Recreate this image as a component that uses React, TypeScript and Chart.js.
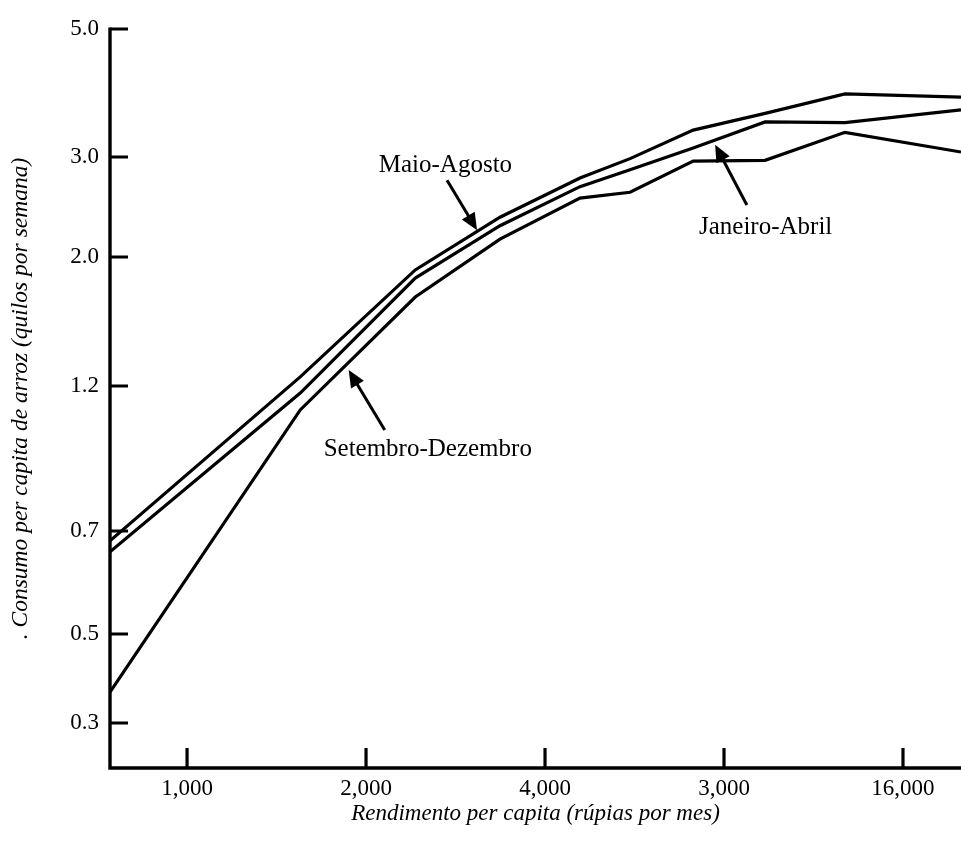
import React, { useEffect, useRef } from 'react';
import { Chart, LinearScale, registerables } from 'chart.js';

// ---- data ----
const INCOME = [742, 1550, 2420, 3360, 4580, 5560, 7100, 9380, 12780, 20030];
const MAIO_AGOSTO = [0.678, 1.244, 1.9, 2.35, 2.755, 2.98, 3.34, 3.57, 3.86, 3.81];
const JANEIRO_ABRIL = [0.654, 1.169, 1.84, 2.27, 2.66, 2.85, 3.11, 3.45, 3.44, 3.62];
const SETEMBRO_DEZEMBRO = [0.358, 1.098, 1.707, 2.15, 2.54, 2.6, 2.95, 2.96, 3.31, 3.06];

const X_TICKS = [1000, 2000, 4000, 8000, 16000];
const X_TICK_LABELS = ['1,000', '2,000', '4,000', '3,000', '16,000'];
const Y_TICKS = [0.3, 0.5, 0.7, 1.2, 2.0, 3.0, 5.0];
const Y_TICK_LABELS = ['0.3', '0.5', '0.7', '1.2', '2.0', '3.0', '5.0'];

const X_TITLE = 'Rendimento per capita (rúpias por mes)';
const Y_TITLE = '. Consumo per capita de arroz (quilos por semana)';

const ANNOTATION_TEXTS = ['Maio-Agosto', 'Janeiro-Abril', 'Setembro-Dezembro'];
const ANNOTATION_TEXT_AT = [[2720, 2.9], [9400, 2.25], [2540, 0.949]];
const ANNOTATION_TAIL_AT = [[2737, 2.73], [8740, 2.47], [2150, 1.019]];
const ANNOTATION_TIP_AT = [[3074, 2.23], [7730, 3.15], [1870, 1.278]];

// ---- scale geometry (the printed y axis is unevenly spaced) ----
const X_MIN = 742;
const X_MAX = 20030;
const Y_MIN = 0.2317;
const Y_MAX = 5.0;
const Y_WARP_VALUES = [Y_MIN, 0.3, 0.5, 0.7, 1.2, 2.0, 3.0, 5.0];
const Y_WARP_FRACTIONS = [0, 0.0609, 0.1813, 0.3207, 0.5169, 0.6915, 0.8268, 1.0];

const FONT = "'Liberation Serif', 'Times New Roman', serif";

class WarpScale extends LinearScale {
  static id = 'warp';
  static defaults = LinearScale.defaults;

  buildTicks() {
    return Y_TICKS.map((v) => ({ value: v }));
  }

  valueToDecimal(value: number) {
    const vs = Y_WARP_VALUES;
    const fs = Y_WARP_FRACTIONS;
    const v = Math.max(value, 1e-6);
    let i = 0;
    if (v <= vs[0]) i = 0;
    else if (v >= vs[vs.length - 1]) i = vs.length - 2;
    else {
      while (i < vs.length - 2 && v > vs[i + 1]) i++;
    }
    const t = (Math.log(v) - Math.log(vs[i])) / (Math.log(vs[i + 1]) - Math.log(vs[i]));
    return fs[i] + t * (fs[i + 1] - fs[i]);
  }

  getPixelForValue(value: number) {
    return this.getPixelForDecimal(this.valueToDecimal(value));
  }

  getValueForPixel(pixel: number) {
    const d = this.getDecimalForPixel(pixel);
    const vs = Y_WARP_VALUES;
    const fs = Y_WARP_FRACTIONS;
    let i = 0;
    if (d <= fs[0]) i = 0;
    else if (d >= fs[fs.length - 1]) i = fs.length - 2;
    else {
      while (i < fs.length - 2 && d > fs[i + 1]) i++;
    }
    const t = (d - fs[i]) / (fs[i + 1] - fs[i]);
    return Math.exp(Math.log(vs[i]) + t * (Math.log(vs[i + 1]) - Math.log(vs[i])));
  }
}

Chart.register(...registerables, WarpScale);

const axesPlugin = {
  id: 'bookAxes',
  afterDatasetsDraw(chart: any) {
    const { ctx, chartArea } = chart;
    const { left, right, top, bottom } = chartArea;
    const xs = chart.scales.x;
    const ys = chart.scales.y;
    ctx.save();
    ctx.strokeStyle = '#000';
    ctx.fillStyle = '#000';
    ctx.lineWidth = 3.4;
    ctx.lineCap = 'butt';
    // axis lines
    ctx.beginPath();
    ctx.moveTo(left, top - 1.5);
    ctx.lineTo(left, bottom);
    ctx.lineTo(right, bottom);
    ctx.stroke();
    // inward ticks
    ctx.lineWidth = 3.2;
    ctx.beginPath();
    ys.ticks.forEach((t: any) => {
      const y = ys.getPixelForValue(t.value);
      ctx.moveTo(left, y);
      ctx.lineTo(left + 18, y);
    });
    xs.ticks.forEach((t: any) => {
      const x = xs.getPixelForValue(t.value);
      ctx.moveTo(x, bottom);
      ctx.lineTo(x, bottom - 20);
    });
    ctx.stroke();

    // annotations
    ctx.lineWidth = 3;
    ctx.font = `25px ${FONT}`;
    ctx.textAlign = 'center';
    ctx.textBaseline = 'middle';
    ANNOTATION_TEXTS.forEach((txt, i) => {
      const tx = xs.getPixelForValue(ANNOTATION_TEXT_AT[i][0]);
      const ty = ys.getPixelForValue(ANNOTATION_TEXT_AT[i][1]);
      ctx.fillText(txt, tx, ty);
      const ax = xs.getPixelForValue(ANNOTATION_TAIL_AT[i][0]);
      const ay = ys.getPixelForValue(ANNOTATION_TAIL_AT[i][1]);
      const bx = xs.getPixelForValue(ANNOTATION_TIP_AT[i][0]);
      const by = ys.getPixelForValue(ANNOTATION_TIP_AT[i][1]);
      const ang = Math.atan2(by - ay, bx - ax);
      const headLen = 17;
      const headHalf = 7.5;
      const hx = bx - headLen * Math.cos(ang);
      const hy = by - headLen * Math.sin(ang);
      ctx.beginPath();
      ctx.moveTo(ax, ay);
      ctx.lineTo(hx + 2 * Math.cos(ang), hy + 2 * Math.sin(ang));
      ctx.stroke();
      ctx.beginPath();
      ctx.moveTo(bx, by);
      ctx.lineTo(hx + headHalf * Math.sin(ang), hy - headHalf * Math.cos(ang));
      ctx.lineTo(hx - headHalf * Math.sin(ang), hy + headHalf * Math.cos(ang));
      ctx.closePath();
      ctx.fill();
    });
    ctx.restore();
  },
};

function series(label: string, values: number[]) {
  return {
    label,
    data: INCOME.map((x, i) => ({ x, y: values[i] })),
    borderColor: '#000',
    backgroundColor: '#000',
    borderWidth: 3.2,
    pointRadius: 0,
    tension: 0,
    fill: false,
    borderJoinStyle: 'miter' as const,
  };
}

export default function App() {
  const ref = useRef<HTMLCanvasElement>(null);
  useEffect(() => {
    const chart = new Chart(ref.current as HTMLCanvasElement, {
      type: 'line',
      data: {
        datasets: [
          series('Maio-Agosto', MAIO_AGOSTO),
          series('Janeiro-Abril', JANEIRO_ABRIL),
          series('Setembro-Dezembro', SETEMBRO_DEZEMBRO),
        ],
      },
      options: {
        responsive: false,
        animation: false,
        layout: { padding: { top: 29, right: 0, left: 0, bottom: 0 } },
        plugins: { legend: { display: false }, tooltip: { enabled: false } },
        scales: {
          x: {
            type: 'logarithmic',
            min: X_MIN,
            max: X_MAX,
            grid: { display: false, drawTicks: false },
            border: { display: false },
            afterBuildTicks: (s: any) => {
              s.ticks = X_TICKS.map((v) => ({ value: v }));
            },
            afterFit: (s: any) => {
              s.height = 74;
            },
            ticks: {
              autoSkip: false,
              maxRotation: 0,
              padding: 7,
              color: '#000',
              font: { family: FONT, size: 23 },
              callback: (_v: any, i: number) => X_TICK_LABELS[i],
            },
            title: {
              display: true,
              text: X_TITLE,
              color: '#000',
              font: { family: FONT, size: 23, style: 'italic' },
              padding: { top: 0, bottom: 14 },
            },
          },
          y: {
            type: 'warp' as any,
            min: Y_MIN,
            max: Y_MAX,
            grid: { display: false, drawTicks: false },
            border: { display: false },
            afterFit: (s: any) => {
              s.width = 110;
            },
            ticks: {
              autoSkip: false,
              padding: 11,
              color: '#000',
              font: { family: FONT, size: 23 },
              callback: (_v: any, i: number) => Y_TICK_LABELS[i],
            },
            title: {
              display: true,
              text: Y_TITLE,
              color: '#000',
              font: { family: FONT, size: 23.5, style: 'italic' },
              padding: { top: 7, bottom: 0 },
            },
          },
        },
      } as any,
      plugins: [axesPlugin],
    });
    return () => chart.destroy();
  }, []);
  return (
    <div style={{ position: 'fixed', left: 0, top: 0, width: 961, height: 842, background: '#fff' }}>
      <canvas ref={ref} width={961} height={842} style={{ display: 'block' }} />
    </div>
  );
}
